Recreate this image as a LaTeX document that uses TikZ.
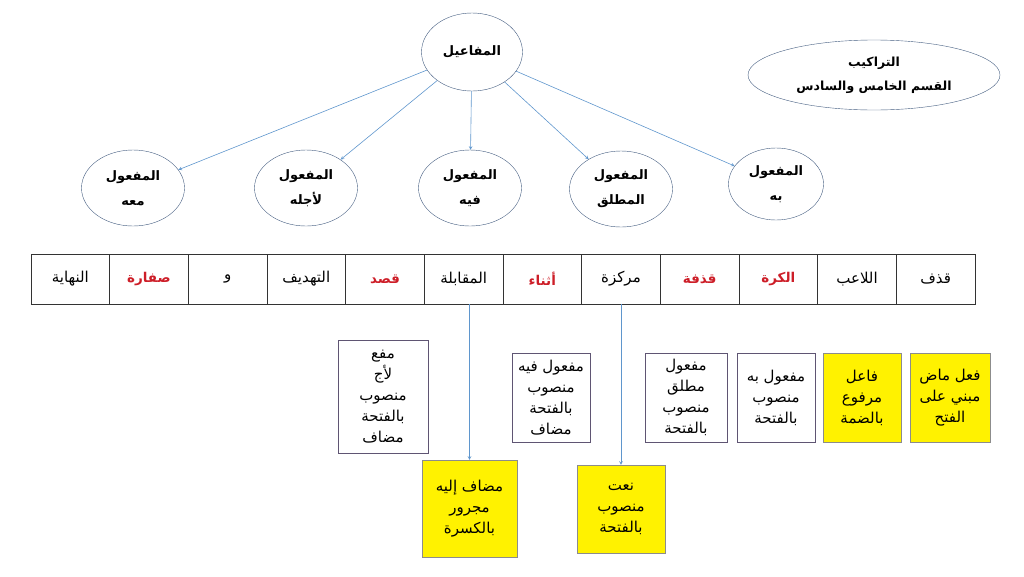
\documentclass[tikz,border=0pt]{standalone}
\usepackage{fontspec}
\newfontfamily\arabicfont[Script=Arabic]{DejaVu Sans}
\TeXXeTstate=1
\usetikzlibrary{shapes.geometric}
\newcommand{\ar}[1]{{\arabicfont\beginR #1\endR}}
\newcommand{\txt}{\fontsize{15}{21}\selectfont}
\definecolor{rim}{RGB}{70,95,130}
\definecolor{link}{RGB}{95,150,205}
\definecolor{word}{RGB}{205,30,40}
\definecolor{boxrim}{RGB}{95,85,115}
\tikzset{
    oval/.style={ellipse, draw=rim, fill=white, minimum width=103pt, minimum height=76pt,
        inner sep=0pt, align=center, font=\fontsize{13}{25}\selectfont\bfseries},
    cell/.style={draw=black!80, minimum width=78.67pt, minimum height=50pt, inner sep=0pt,
        font=\fontsize{15}{17}\selectfont},
    hot/.style={text=word, font=\fontsize{13.5}{17}\selectfont\bfseries},
    plain/.style={},
    note/.style={draw=boxrim, fill=white, inner sep=0pt, align=center, font=\txt},
    gold/.style={draw=black!45, fill=yellow, inner sep=0pt, align=center, font=\txt},
    link/.style={draw=link, ->, >=stealth, line width=0.6pt}
}
\begin{document}
\begin{tikzpicture}[x=1pt, y=-1pt]
    \useasboundingbox (0,0) rectangle (1024,576);
    \node[oval, minimum width=101pt, minimum height=78pt] (top) at (472,52) {\ar{المفاعيل}};
    \node[oval, font=\fontsize{12.5}{24}\selectfont\bfseries, minimum width=252pt, minimum height=70pt] (title) at (874,75)
        {\ar{التراكيب}\\\ar{القسم الخامس والسادس}};

    \node[oval] (maah) at (133,188) {\ar{المفعول}\\\ar{معه}};
    \node[oval] (ajlih) at (306,188) {\ar{المفعول}\\\ar{لأجله}};
    \node[oval] (fih) at (470,188) {\ar{المفعول}\\\ar{فيه}};
    \node[oval] (mutlaq) at (621,189) {\ar{المفعول}\\\ar{المطلق}};
    \node[oval, minimum width=95pt, minimum height=72pt] (bih) at (776,184) {\ar{المفعول}\\\ar{به}};

    \draw[link] (top) -- (maah);
    \draw[link] (top) -- (ajlih);
    \draw[link] (top) -- (fih);
    \draw[link] (top) -- (mutlaq);
    \draw[link] (top) -- (bih);

    \foreach \w/\s [count=\i] in {قذف/plain, اللاعب/plain, الكرة/hot, قذفة/hot, مركزة/plain, أثناء/hot,
        المقابلة/plain, قصد/hot, التهديف/plain, و/plain, صفارة/hot, النهاية/plain}
        \node[cell, \s] (c\i) at ({975-(\i-0.5)*78.67},279) {\ar{\w}};

    \node[note, minimum width=90pt, minimum height=113pt] (n1) at (383,396.5)
        {\ar{مفع}\\\ar{لأج}\\\ar{منصوب}\\\ar{بالفتحة}\\\ar{مضاف}};
    \node[note, minimum width=78pt, minimum height=89pt] (n2) at (551,397.5)
        {\ar{مفعول فيه}\\\ar{منصوب}\\\ar{بالفتحة}\\\ar{مضاف}};
    \node[note, minimum width=82pt, minimum height=89pt] (n3) at (686,397.5)
        {\ar{مفعول}\\\ar{مطلق}\\\ar{منصوب}\\\ar{بالفتحة}};
    \node[note, minimum width=78pt, minimum height=89pt] (n4) at (776,397.5)
        {\ar{مفعول به}\\\ar{منصوب}\\\ar{بالفتحة}};
    \node[gold, minimum width=78pt, minimum height=89pt] (faail) at (862,397.5)
        {\ar{فاعل}\\\ar{مرفوع}\\\ar{بالضمة}};
    \node[gold, minimum width=80pt, minimum height=89pt] (fiil) at (950,397.5)
        {\ar{فعل ماض}\\\ar{مبني على}\\\ar{الفتح}};
    \node[gold, minimum width=95pt, minimum height=97pt] (mudaf) at (469.5,508.5)
        {\ar{مضاف إليه}\\\ar{مجرور}\\\ar{بالكسرة}};
    \node[gold, minimum width=88pt, minimum height=88pt] (naat) at (621,509)
        {\ar{نعت}\\\ar{منصوب}\\\ar{بالفتحة}};

    \draw[link] (mudaf.north |- c7.south) -- (mudaf.north);
    \draw[link] (naat.north |- c5.south) -- (naat.north);
\end{tikzpicture}
\end{document}
